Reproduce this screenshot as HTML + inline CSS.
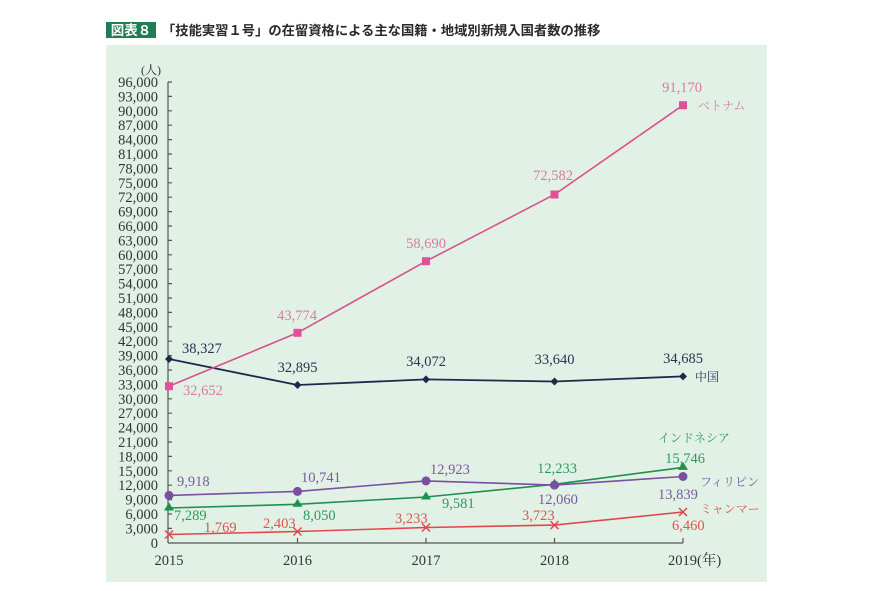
<!DOCTYPE html>
<html><head><meta charset="utf-8">
<style>
html,body{margin:0;padding:0;background:#fff;}
body{width:886px;height:591px;overflow:hidden;position:relative;}
svg{position:absolute;left:0;top:0;}
.t{font-family:"Liberation Sans","Noto Sans CJK JP",sans-serif;}
.n{font-family:"Liberation Serif","Noto Serif CJK SC",serif;font-size:14.5px;}
.j{font-family:"Liberation Serif","Noto Serif CJK SC","Noto Sans CJK JP",serif;font-size:12px;}
</style></head><body>
<svg width="886" height="591" viewBox="0 0 886 591" xmlns="http://www.w3.org/2000/svg">
<rect x="106" y="45" width="661" height="537" fill="#e1f1e6"/>
<rect x="106" y="22" width="50" height="16" fill="#1f7d55"/>
<text x="131" y="35" class="t" font-size="13.5" font-weight="bold" fill="#fff" text-anchor="middle">図表８</text>
<text x="162" y="35" class="t" font-size="13.3" font-weight="bold" fill="#2a2a2a">「技能実習１号」の在留資格による主な国籍・地域別新規入国者数の推移</text>

<!-- y axis labels -->
<g class="n" fill="#333" text-anchor="end">
<text x="158" y="87">96,000</text>
<text x="158" y="101.4">93,000</text>
<text x="158" y="115.8">90,000</text>
<text x="158" y="130.2">87,000</text>
<text x="158" y="144.6">84,000</text>
<text x="158" y="159">81,000</text>
<text x="158" y="173.4">78,000</text>
<text x="158" y="187.8">75,000</text>
<text x="158" y="202.2">72,000</text>
<text x="158" y="216.6">69,000</text>
<text x="158" y="231">66,000</text>
<text x="158" y="245.4">63,000</text>
<text x="158" y="259.8">60,000</text>
<text x="158" y="274.2">57,000</text>
<text x="158" y="288.6">54,000</text>
<text x="158" y="303">51,000</text>
<text x="158" y="317.4">48,000</text>
<text x="158" y="331.8">45,000</text>
<text x="158" y="346.2">42,000</text>
<text x="158" y="360.6">39,000</text>
<text x="158" y="375">36,000</text>
<text x="158" y="389.4">33,000</text>
<text x="158" y="403.8">30,000</text>
<text x="158" y="418.2">27,000</text>
<text x="158" y="432.6">24,000</text>
<text x="158" y="447">21,000</text>
<text x="158" y="461.4">18,000</text>
<text x="158" y="475.8">15,000</text>
<text x="158" y="490.2">12,000</text>
<text x="158" y="504.6">9,000</text>
<text x="158" y="519">6,000</text>
<text x="158" y="533.4">3,000</text>
<text x="158" y="548">0</text>
</g>
<text x="141" y="74" class="j" font-size="13" fill="#333">(人)</text>

<!-- axes -->
<g stroke="#555" stroke-width="1.2" fill="none">
<line x1="168" y1="82" x2="168" y2="543"/>
<line x1="168" y1="543" x2="683" y2="543"/>
<path d="M168 82h4M168 96.4h4M168 110.8h4M168 125.2h4M168 139.6h4M168 154h4M168 168.4h4M168 182.8h4M168 197.2h4M168 211.6h4M168 226h4M168 240.4h4M168 254.8h4M168 269.2h4M168 283.6h4M168 298h4M168 312.4h4M168 326.8h4M168 341.2h4M168 355.6h4M168 370h4M168 384.4h4M168 398.8h4M168 413.2h4M168 427.6h4M168 442h4M168 456.4h4M168 470.8h4M168 485.2h4M168 499.6h4M168 514h4M168 528.4h4"/>
<path d="M297.5 543v-5M426 543v-5M554.5 543v-5M683 543v-5"/>
</g>
<g class="n" fill="#333" text-anchor="middle">
<text x="169" y="565">2015</text>
<text x="297.5" y="565">2016</text>
<text x="426" y="565">2017</text>
<text x="554.5" y="565">2018</text>
<text x="668" y="565" text-anchor="start">2019(年)</text>
</g>

<!-- Myanmar -->
<polyline points="169,534.5 297.5,531.5 426,527.5 554.5,525.1 683,512" fill="none" stroke="#e0474c" stroke-width="1.6"/>
<g stroke="#e0474c" stroke-width="1.5">
<path d="M165,530.5l8,8M173,530.5l-8,8"/>
<path d="M293.5,527.5l8,8M301.5,527.5l-8,8"/>
<path d="M422,523.5l8,8M430,523.5l-8,8"/>
<path d="M550.5,521.1l8,8M558.5,521.1l-8,8"/>
<path d="M679,508l8,8M687,508l-8,8"/>
</g>
<!-- Indonesia -->
<polyline points="169,508 297.5,504.3 426,497 554.5,484.3 683,467.4" fill="none" stroke="#1f8f4e" stroke-width="1.6"/>
<g fill="#1f8f4e">
<path d="M169,502.5l5,8h-10z"/>
<path d="M297.5,498.8l5,8h-10z"/>
<path d="M426,491.5l5,8h-10z"/>
<path d="M554.5,478.8l5,8h-10z"/>
<path d="M683,461.9l5,8h-10z"/>
</g>
<!-- Philippines -->
<polyline points="169,495.4 297.5,491.4 426,480.9 554.5,485.1 683,476.5" fill="none" stroke="#7a4fa0" stroke-width="1.6"/>
<g fill="#7a4fa0">
<circle cx="169" cy="495.4" r="4.5"/>
<circle cx="297.5" cy="491.4" r="4.5"/>
<circle cx="426" cy="480.9" r="4.5"/>
<circle cx="554.5" cy="485.1" r="4.5"/>
<circle cx="683" cy="476.5" r="4.5"/>
</g>
<!-- China -->
<polyline points="169,359 297.5,385 426,379.4 554.5,381.5 683,376.4" fill="none" stroke="#1f2a4a" stroke-width="1.8"/>
<g fill="#1f2a4a">
<path d="M169,355l4,4l-4,4l-4,-4z"/>
<path d="M297.5,381l4,4l-4,4l-4,-4z"/>
<path d="M426,375.4l4,4l-4,4l-4,-4z"/>
<path d="M554.5,377.5l4,4l-4,4l-4,-4z"/>
<path d="M683,372.4l4,4l-4,4l-4,-4z"/>
</g>
<!-- Vietnam -->
<polyline points="169,386.2 297.5,332.8 426,261.2 554.5,194.5 683,105.2" fill="none" stroke="#d9508f" stroke-width="1.6"/>
<g fill="#e0519a">
<rect x="165" y="382.2" width="8" height="8"/>
<rect x="293.5" y="328.8" width="8" height="8"/>
<rect x="422" y="257.2" width="8" height="8"/>
<rect x="550.5" y="190.5" width="8" height="8"/>
<rect x="679" y="101.2" width="8" height="8"/>
</g>

<!-- Vietnam labels -->
<g class="n" fill="#d97aa3" text-anchor="middle">
<text x="682" y="92">91,170</text>
<text x="553" y="180">72,582</text>
<text x="426" y="248">58,690</text>
<text x="297" y="320">43,774</text>
<text x="183" y="395" text-anchor="start">32,652</text>
</g>
<text x="698" y="110" class="j" fill="#d97aa3">ベトナム</text>
<!-- China labels -->
<g class="n" fill="#2a3350" text-anchor="middle">
<text x="182" y="353" text-anchor="start">38,327</text>
<text x="297.5" y="372">32,895</text>
<text x="426" y="366">34,072</text>
<text x="554.5" y="364">33,640</text>
<text x="683" y="363">34,685</text>
</g>
<text x="695" y="381" class="j" fill="#2a3350">中国</text>
<!-- Indonesia labels -->
<g class="n" fill="#2e9a5f">
<text x="174" y="520">7,289</text>
<text x="303" y="520">8,050</text>
<text x="442" y="508">9,581</text>
<text x="557" y="473" text-anchor="middle">12,233</text>
<text x="685" y="463" text-anchor="middle">15,746</text>
</g>
<text x="658" y="442" class="j" fill="#2e9a5f">インドネシア</text>
<!-- Philippines labels -->
<g class="n" fill="#7a5a9e">
<text x="177" y="486">9,918</text>
<text x="301" y="482">10,741</text>
<text x="430" y="474">12,923</text>
<text x="538" y="504">12,060</text>
<text x="658" y="499">13,839</text>
</g>
<text x="700" y="486" class="j" fill="#7a5a9e">フィリピン</text>
<!-- Myanmar labels -->
<g class="n" fill="#d9574f">
<text x="204" y="532">1,769</text>
<text x="263" y="528">2,403</text>
<text x="395" y="523">3,233</text>
<text x="522" y="520">3,723</text>
<text x="672" y="530">6,460</text>
</g>
<text x="700" y="513" class="j" fill="#d9574f">ミャンマー</text>
</svg>
</body></html>
